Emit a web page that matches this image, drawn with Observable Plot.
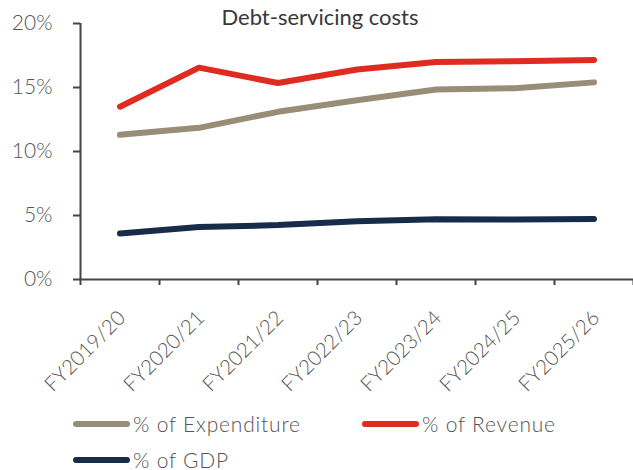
<!DOCTYPE html>
<html>
<head>
<meta charset="utf-8">
<script src="https://cdn.jsdelivr.net/npm/d3@7"></script>
<script src="https://cdn.jsdelivr.net/npm/@observablehq/plot@0.6"></script>
<style>
  body { margin: 0; background: #fff; font-family: Lato, "Open Sans", sans-serif; font-weight: 300; }
  #wrap { position: relative; width: 633px; height: 470px; overflow: hidden; }
  .leg { position: absolute; display: flex; align-items: center; font-size: 21px; line-height: 18px; height: 18px; letter-spacing: 0.8px; color: #555; font-weight: 300; white-space: nowrap; }
  .leg svg { margin-right: 3px; }
</style>
</head>
<body>
<div id="wrap"></div>
<script>
const title = "Debt-servicing costs";
const categories = ["FY2019/20","FY2020/21","FY2021/22","FY2022/23","FY2023/24","FY2024/25","FY2025/26"];
const seriesNames = ["% of Expenditure", "% of Revenue", "% of GDP"];
const seriesColors = ["#988e77", "#e02b21", "#172b4a"];
const expenditure = [11.3, 11.85, 13.1, 14.0, 14.85, 14.95, 15.4];
const revenue = [13.5, 16.55, 15.35, 16.4, 17.0, 17.05, 17.15];
const gdp = [3.6, 4.1, 4.25, 4.55, 4.7, 4.68, 4.72];
const yTicks = [0, 5, 10, 15, 20];

const seriesValues = [expenditure, revenue, gdp];
const rows = [];
seriesNames.forEach((s, k) => seriesValues[k].forEach((v, i) => rows.push({series: s, i: i + 0.5, value: v})));

const centers = categories.map((c, i) => i + 0.5);
const bounds = d3.range(0, categories.length + 1);

const chart = Plot.plot({
  width: 633,
  height: 400,
  marginTop: 23,
  marginBottom: 121,
  marginLeft: 80,
  marginRight: 0,
  style: {fontFamily: "Lato, 'Open Sans', sans-serif", fontWeight: 300, background: "transparent"},
  x: {domain: [0, categories.length], axis: null},
  y: {domain: [0, 20], axis: null},
  color: {domain: seriesNames, range: seriesColors},
  marks: [
    Plot.axisY({ticks: yTicks, label: null, tickFormat: d => d + "%", tickSize: 7, tickPadding: 21, fontSize: 21, fill: "#555", stroke: "#444", strokeWidth: 2}),
    Plot.axisX({ticks: bounds, label: null, tickFormat: () => "", tickSize: 6, stroke: "#444", strokeWidth: 2}),
    Plot.axisX({ticks: centers, label: null, tickFormat: d => categories[Math.floor(d)], tickSize: 0, tickPadding: 26, tickRotate: -45, fontSize: 20.5, fill: "#555", dx: 2, dy: 9, style: {letterSpacing: "1px"}}),
    Plot.ruleX([0], {stroke: "#444", strokeWidth: 2}),
    Plot.ruleY([0], {stroke: "#444", strokeWidth: 2}),
    Plot.line(rows, {x: "i", y: "value", stroke: "series", z: "series", strokeWidth: 6, strokeLinecap: "round", strokeLinejoin: "round"}),
    Plot.text([title], {frameAnchor: "top", text: d => d, dx: -37, dy: -14, fontSize: 22, fill: "#383838", fontWeight: 400, style: {letterSpacing: "0.5px"}})
  ]
});
const wrap = document.getElementById("wrap");
wrap.appendChild(chart);

const legPos = [[73, 415], [362, 415], [73, 451]];
seriesNames.forEach((s, k) => {
  const d = document.createElement("div");
  d.className = "leg";
  d.style.left = legPos[k][0] + "px";
  d.style.top = legPos[k][1] + "px";
  d.innerHTML = `<svg width="57" height="10"><line x1="3" y1="5" x2="54" y2="5" stroke="${seriesColors[k]}" stroke-width="6" stroke-linecap="round"/></svg><span>${s}</span>`;
  wrap.appendChild(d);
});
</script>
</body>
</html>
